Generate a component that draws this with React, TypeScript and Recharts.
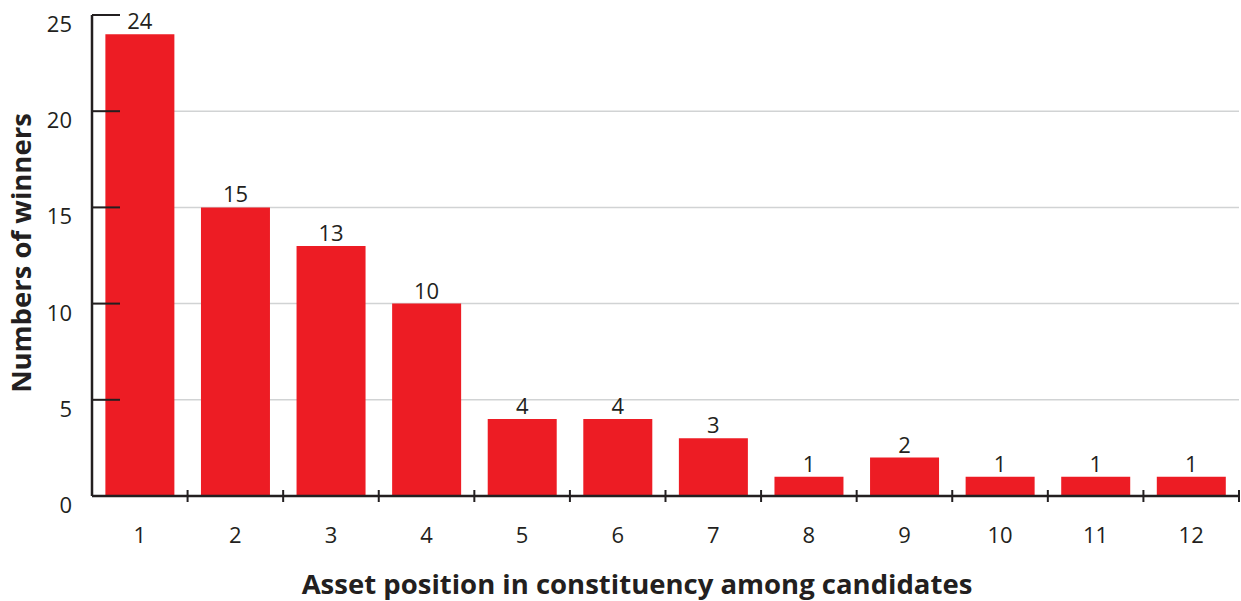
import { BarChart, Bar, XAxis, YAxis, CartesianGrid, LabelList } from "recharts";

const positions = ["1", "2", "3", "4", "5", "6", "7", "8", "9", "10", "11", "12"];
const winners = [24, 15, 13, 10, 4, 4, 3, 1, 2, 1, 1, 1];
const yTicks = [0, 5, 10, 15, 20, 25];
const gridValues = [5, 10, 15, 20];

const data = positions.map((p, i) => ({ pos: p, winners: winners[i] }));

const INK = "#231f20";
const FONT = "'Open Sans', sans-serif";
const W = 1241;
const H = 601;
const PLOT_LEFT = 92;
const PLOT_RIGHT = 2;
const BAND = (W - PLOT_LEFT - PLOT_RIGHT) / positions.length;

function XTick(props: any) {
  const { x, y, payload } = props;
  const axisY = y - 2;
  return (
    <g>
      <line x1={x + BAND / 2} x2={x + BAND / 2} y1={axisY} y2={axisY - 12} stroke={INK} strokeWidth={2} />
      <text x={x} y={axisY + 41} textAnchor="middle" fontSize={22} fontFamily={FONT} fill={INK}>
        {payload.value}
      </text>
    </g>
  );
}

function YTick(props: any) {
  const { y, payload } = props;
  return (
    <text x={72} y={y + 17} textAnchor="end" fontSize={22} fontFamily={FONT} fill={INK}>
      {payload.value}
    </text>
  );
}

export default function App() {
  return (
    <div style={{ position: "absolute", left: 0, top: 0, background: "#fff" }}>
      <BarChart
        width={W}
        height={H}
        data={data}
        barCategoryGap="14%"
        margin={{ top: 15, right: PLOT_RIGHT, left: 0, bottom: 0 }}
      >
        <CartesianGrid horizontal vertical={false} horizontalValues={gridValues} stroke="#d1d3d4" strokeWidth={1.5} />
        <XAxis
          dataKey="pos"
          axisLine={{ stroke: INK, strokeWidth: 2.5 }}
          tickLine={false}
          tick={<XTick />}
          interval={0}
          height={105}
        />
        <YAxis
          type="number"
          domain={[0, 25]}
          ticks={yTicks}
          width={PLOT_LEFT}
          axisLine={{ stroke: INK, strokeWidth: 2.5 }}
          tickLine={{ stroke: INK, strokeWidth: 2 }}
          tickSize={-28}
          tick={<YTick />}
          interval={0}
        />
        <Bar dataKey="winners" fill="#ed1c24" isAnimationActive={false}>
          <LabelList dataKey="winners" position="top" offset={5} fontSize={22} fontFamily={FONT} fill={INK} />
        </Bar>
        <text x={637} y={594} textAnchor="middle" fontSize={27.5} fontWeight="bold" fontFamily={FONT} fill={INK}>
          Asset position in constituency among candidates
        </text>
        <text
          x={31}
          y={253}
          transform="rotate(-90 31 253)"
          textAnchor="middle"
          fontSize={27.5}
          fontWeight="bold"
          fontFamily={FONT}
          fill={INK}
        >
          Numbers of winners
        </text>
      </BarChart>
    </div>
  );
}
